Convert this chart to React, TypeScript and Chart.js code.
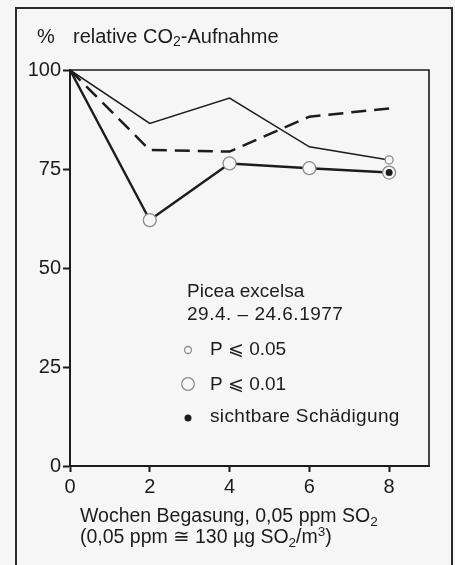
import React, { useEffect, useRef } from "react";
import { Chart, registerables } from "chart.js";

Chart.register(...registerables);

// ---- data ----
const weeks = [0, 2, 4, 6, 8];
const thinSolid = [100, 86.5, 92.9, 80.6, 77.3];
const dashedLine = [100, 79.8, 79.4, 88.2, 90.3];
const thickSolid = [100, 62.1, 76.4, 75.2, 74.1];
// significance marks: "" none, "p05" = P <= 0.05, "p01" = P <= 0.01
const thinSignificance = ["", "", "", "", "p05"];
const thickSignificance = ["", "p01", "p01", "p01", "p01"];
const damageWeeks = [8];
const damageValues = [74.1];
const xTickValues = [0, 2, 4, 6, 8];
const yTickValues = [0, 25, 50, 75, 100];

const titleText = "relative CO";
const titleSub = "2";
const titleRest = "-Aufnahme";
const legendSpecies = "Picea excelsa";
const legendPeriod = "29.4. – 24.6.1977";
const legendP05 = "P ⩽ 0.05";
const legendP01 = "P ⩽ 0.01";
const legendDamage = "sichtbare Schädigung";

const FONT = "'Liberation Sans', 'DejaVu Sans', Arial, sans-serif";
const INK = "#1c1c1c";
const BG = "#f6f6f6";
const MARK = "#8c8c8c";

type Run = { t: string; size: number; dy?: number };

function drawRuns(ctx: CanvasRenderingContext2D, x: number, y: number, runs: Run[], spacing = 0) {
  let cx = x;
  (ctx as any).letterSpacing = `${spacing}px`;
  for (const r of runs) {
    ctx.font = `${r.size}px ${FONT}`;
    ctx.fillText(r.t, cx, y + (r.dy || 0));
    cx += ctx.measureText(r.t).width;
  }
  (ctx as any).letterSpacing = "0px";
}

const radiusFor = (sig: string) => (sig === "p01" ? 6.5 : sig === "p05" ? 4 : 0);

const decorPlugin = {
  id: "decor",
  beforeDraw(chart: any) {
    const ctx = chart.ctx as CanvasRenderingContext2D;
    ctx.save();
    ctx.fillStyle = BG;
    ctx.fillRect(0, 0, chart.width, chart.height);
    // outer frame (open at the bottom)
    ctx.strokeStyle = "#2a2a2a";
    ctx.lineWidth = 2;
    ctx.beginPath();
    ctx.moveTo(16, chart.height + 2);
    ctx.lineTo(16, 8);
    ctx.lineTo(452, 8);
    ctx.lineTo(452, chart.height + 2);
    ctx.stroke();
    // plot box top and right
    const a = chart.chartArea;
    ctx.strokeStyle = INK;
    ctx.lineWidth = 1.6;
    ctx.beginPath();
    ctx.moveTo(a.left, a.top);
    ctx.lineTo(a.right, a.top);
    ctx.lineTo(a.right, a.bottom);
    ctx.stroke();
    ctx.restore();
  },
  afterDraw(chart: any) {
    const ctx = chart.ctx as CanvasRenderingContext2D;
    ctx.save();
    ctx.fillStyle = INK;
    ctx.textBaseline = "middle";
    ctx.textAlign = "left";
    // title
    drawRuns(ctx, 37, 37, [{ t: "%", size: 20 }]);
    drawRuns(ctx, 73, 37, [
      { t: titleText, size: 20 },
      { t: titleSub, size: 14, dy: 5 },
      { t: titleRest, size: 20 },
    ]);
    // legend
    drawRuns(ctx, 187, 292, [{ t: legendSpecies, size: 19 }]);
    drawRuns(ctx, 187, 315, [{ t: legendPeriod, size: 19 }], 0.5);
    drawRuns(ctx, 210, 350, [{ t: legendP05, size: 19 }]);
    drawRuns(ctx, 210, 385, [{ t: legendP01, size: 19 }]);
    drawRuns(ctx, 210, 417, [{ t: legendDamage, size: 19 }], 0.35);
    ctx.strokeStyle = MARK;
    ctx.lineWidth = 1.3;
    ctx.beginPath();
    ctx.arc(188, 350, 3.5, 0, Math.PI * 2);
    ctx.stroke();
    ctx.beginPath();
    ctx.arc(188, 384, 6.3, 0, Math.PI * 2);
    ctx.stroke();
    ctx.beginPath();
    ctx.arc(188, 418, 3.5, 0, Math.PI * 2);
    ctx.fill();
    // x axis title
    drawRuns(ctx, 80, 517, [
      { t: "Wochen Begasung, 0,05 ppm SO", size: 19.5 },
      { t: "2", size: 13.5, dy: 5 },
    ]);
    drawRuns(ctx, 80, 538, [
      { t: "(0,05 ppm ≅ 130 µg SO", size: 19.5 },
      { t: "2", size: 13.5, dy: 5 },
      { t: "/m", size: 19.5 },
      { t: "3", size: 13.5, dy: -6 },
      { t: ")", size: 19.5 },
    ]);
    ctx.restore();
  },
};

export default function App() {
  const ref = useRef<HTMLCanvasElement | null>(null);
  useEffect(() => {
    if (!ref.current) return;
    const pts = (ys: number[]) => weeks.map((x, i) => ({ x, y: ys[i] }));
    const chart = new Chart(ref.current, {
      type: "line",
      data: {
        datasets: [
          {
            label: "damage",
            data: damageWeeks.map((x, i) => ({ x, y: damageValues[i] })),
            showLine: false,
            pointRadius: 3.5,
            pointBackgroundColor: INK,
            pointBorderWidth: 0,
            order: 0,
          },
          {
            label: "thick",
            data: pts(thickSolid),
            borderColor: INK,
            borderWidth: 2.4,
            pointRadius: thickSignificance.map(radiusFor),
            pointBackgroundColor: BG,
            pointBorderColor: MARK,
            pointBorderWidth: 1.3,
            order: 1,
          },
          {
            label: "dashed",
            data: pts(dashedLine),
            borderColor: INK,
            borderWidth: 2.5,
            borderDash: [15, 8],
            pointRadius: 0,
            order: 2,
          },
          {
            label: "thin",
            data: pts(thinSolid),
            borderColor: INK,
            borderWidth: 1.5,
            pointRadius: thinSignificance.map(radiusFor),
            pointBackgroundColor: BG,
            pointBorderColor: MARK,
            pointBorderWidth: 1.3,
            order: 3,
          },
        ],
      },
      options: {
        responsive: false,
        animation: false,
        devicePixelRatio: 1,
        layout: { padding: { top: 70, right: 26, left: 0, bottom: 0 } },
        plugins: { legend: { display: false }, tooltip: { enabled: false } },
        elements: { line: { tension: 0 } },
        scales: {
          x: {
            type: "linear",
            min: 0,
            max: 9,
            afterBuildTicks: (s: any) => {
              s.ticks = xTickValues.map((v) => ({ value: v }));
            },
            afterFit: (s: any) => {
              s.height = 99;
            },
            grid: { drawOnChartArea: false, drawTicks: true, tickLength: 6, tickWidth: 2, tickColor: INK },
            border: { display: true, color: INK, width: 2 },
            ticks: { font: { family: FONT, size: 20 }, color: INK, padding: 3, maxRotation: 0 },
          },
          y: {
            min: 0,
            max: 100,
            afterBuildTicks: (s: any) => {
              s.ticks = yTickValues.map((v) => ({ value: v }));
            },
            afterFit: (s: any) => {
              s.width = 70;
            },
            grid: { drawOnChartArea: false, drawTicks: true, tickLength: 7, tickWidth: 2, tickColor: INK },
            border: { display: true, color: INK, width: 2 },
            ticks: { font: { family: FONT, size: 20 }, color: INK, padding: 2 },
          },
        },
      },
      plugins: [decorPlugin],
    } as any);
    return () => chart.destroy();
  }, []);
  return (
    <div style={{ position: "fixed", left: 0, top: 0, width: 455, height: 565 }}>
      <canvas ref={ref} width={455} height={565} style={{ width: 455, height: 565, display: "block" }} />
    </div>
  );
}
